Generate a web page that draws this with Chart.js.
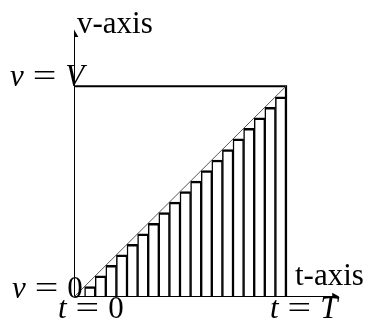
<!DOCTYPE html>
<html>
<head>
<meta charset="utf-8">
<script src="https://cdn.jsdelivr.net/npm/chart.js@4"></script>
<style>
  html, body { margin: 0; padding: 0; background: #fff; }
</style>
</head>
<body>
<canvas id="myChart" width="371" height="320"></canvas>
<script>
'use strict';
// step heights of the 20 strips (left sums), in units of V/20
const stripT = [0.5, 1.5, 2.5, 3.5, 4.5, 5.5, 6.5, 7.5, 8.5, 9.5, 10.5, 11.5, 12.5, 13.5, 14.5, 15.5, 16.5, 17.5, 18.5, 19.5];
const stripV = [0, 1, 2, 3, 4, 5, 6, 7, 8, 9, 10, 11, 12, 13, 14, 15, 16, 17, 18, 19];
const T_END = 20;
const V_TOP = 20;
const diagonal = [{x: 0, y: 0}, {x: T_END, y: V_TOP}];
const boxEdge = [{x: 0, y: V_TOP}, {x: T_END, y: V_TOP}, {x: T_END, y: 0}];
const tAxis = [{x: 0, y: 0}, {x: 24.6, y: 0}];
const vAxis = [{x: 0, y: 0}, {x: 0, y: 24.9}];

const serif = '"Liberation Serif", serif';

// runs: [text, italic, gapAfter, xScale]
function drawRuns(ctx, runs, x, y, size) {
    ctx.textBaseline = 'alphabetic';
    ctx.textAlign = 'left';
    runs.forEach(r => {
        ctx.font = (r[1] ? 'italic ' : '') + size + 'px ' + serif;
        const k = r[3] || 1;
        ctx.save();
        ctx.translate(x, y);
        ctx.scale(k, 1);
        ctx.fillText(r[0], 0, 0);
        ctx.restore();
        x += ctx.measureText(r[0]).width * k + (r[2] || 0);
    });
}

const labelsPlugin = {
    id: 'labels',
    afterDraw(chart) {
        const ctx = chart.ctx;
        const xs = chart.scales.x, ys = chart.scales.y;
        const x0 = xs.getPixelForValue(0), xT = xs.getPixelForValue(T_END);
        const y0 = ys.getPixelForValue(0), yV = ys.getPixelForValue(V_TOP);
        ctx.save();
        ctx.fillStyle = '#000';
        const s = 31;
        const eq = ['=', false, 9, 1.35];
        drawRuns(ctx, [['v-axis', false]], x0 + 3, 33, s);
        drawRuns(ctx, [['v', true, 9], eq, ['V', true]], x0 - 64, yV, s);
        drawRuns(ctx, [['v', true, 9], eq, ['0', false]], x0 - 62, y0 + 1, s);
        drawRuns(ctx, [['t', true, 9], eq, ['0', false]], x0 - 16, y0 + 21, s);
        drawRuns(ctx, [['t', true, 9], eq, ['T', true]], xT - 16, y0 + 21, s);
        drawRuns(ctx, [['t-axis', false]], xT + 9, y0 - 12, s);
        ctx.restore();
    }
};

function lineSet(data, extra) {
    return Object.assign({
        type: 'line',
        data: data,
        borderColor: '#000',
        borderWidth: 2,
        pointRadius: 0,
        fill: false,
        tension: 0,
        order: 0
    }, extra || {});
}

const ctx = document.getElementById('myChart').getContext('2d');
new Chart(ctx, {
    type: 'bar',
    data: {
        datasets: [
            lineSet(diagonal, {borderColor: '#555', borderWidth: 1}),
            lineSet(boxEdge, {borderWidth: 2.2}),
            lineSet(tAxis, {
                pointRadius: [0, 5], pointStyle: 'triangle', pointRotation: 90,
                pointBackgroundColor: '#000', pointBorderWidth: 0
            }),
            lineSet(vAxis, {
                pointRadius: [0, 5], pointStyle: 'triangle', pointRotation: 0,
                pointBackgroundColor: '#000', pointBorderWidth: 0
            }),
            {
                type: 'bar',
                data: stripT.map((t, i) => ({x: t, y: stripV[i]})),
                backgroundColor: '#fff',
                borderColor: '#000',
                borderWidth: {top: 2.5, left: 1.5, right: 1.5, bottom: 0},
                borderSkipped: false,
                barPercentage: 1,
                categoryPercentage: 1,
                order: 1
            }
        ]
    },
    options: {
        responsive: false,
        animation: false,
        devicePixelRatio: 1,
        layout: {padding: {left: 74, right: 32, top: 23, bottom: 23}},
        plugins: {legend: {display: false}, tooltip: {enabled: false}},
        scales: {
            x: {type: 'linear', min: 0, max: 25, display: false, offset: false},
            y: {type: 'linear', min: 0, max: 26, display: false}
        }
    },
    plugins: [labelsPlugin]
});
</script>
</body>
</html>
